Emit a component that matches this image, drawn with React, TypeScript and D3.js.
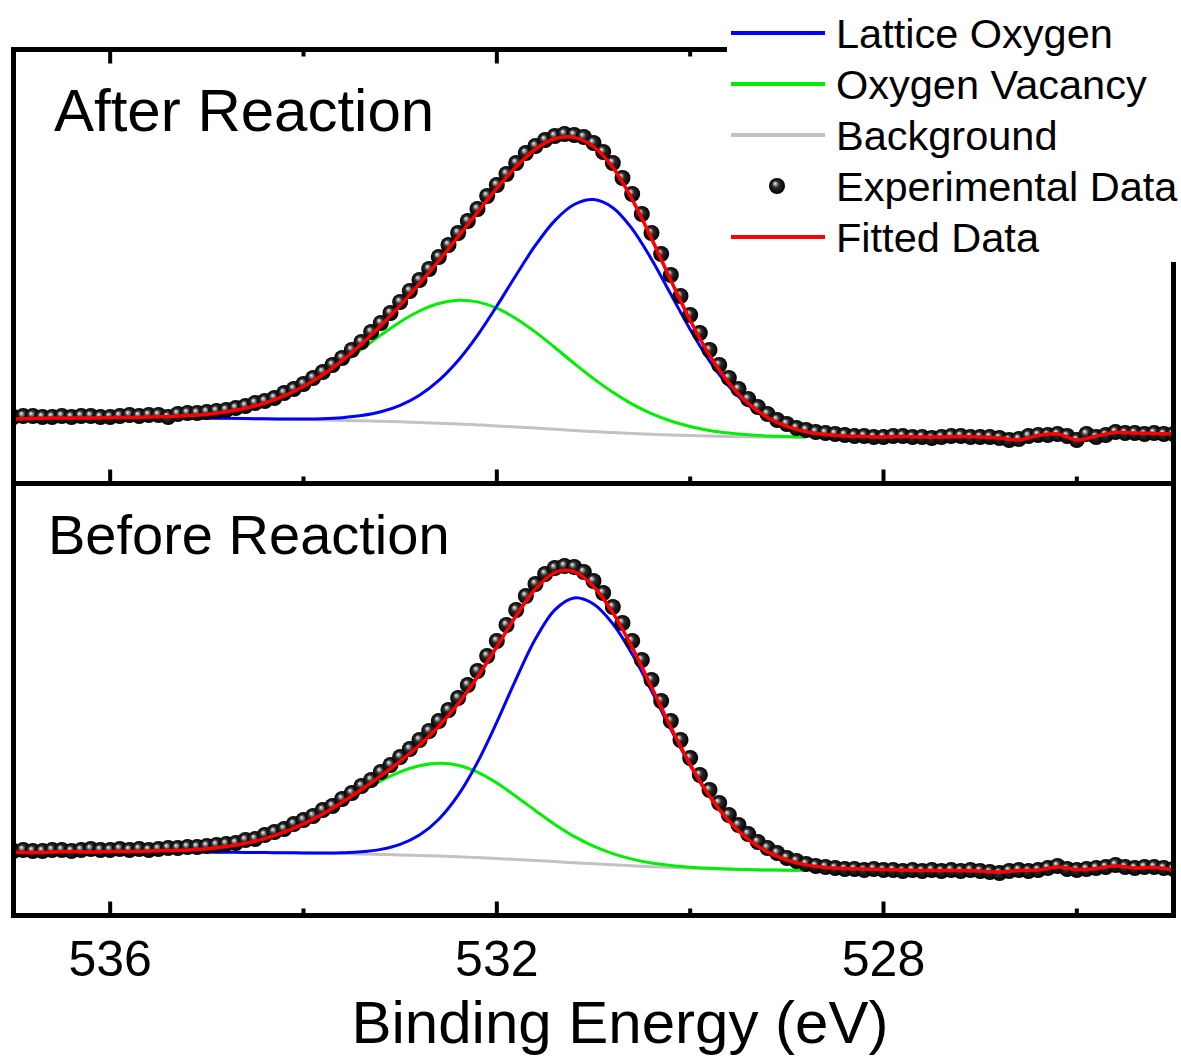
import React, { useRef, useEffect } from "react";
import * as d3 from "d3";

// x axis
const majorTicks = [536, 532, 528];
const minorTicks = [534, 530, 526];
const legendLabels = ["Lattice Oxygen", "Oxygen Vacancy", "Background", "Experimental Data", "Fitted Data"];

// experimental points, 537.0 -> 525.0 eV, every 0.1 eV (intensity, a.u.)
const afterData = [
  66, 67, 67, 66, 66, 67, 66, 67, 67, 66,
  66, 67, 68, 67, 68, 68, 66, 69, 70, 70,
  71, 72, 73, 75, 77, 80, 82, 85, 90, 94,
  99, 105, 111, 118, 125, 133, 141, 151, 160, 170,
  181, 192, 203, 214, 226, 238, 250, 262, 274, 287,
  298, 309, 320, 330, 337, 343, 347, 349, 348, 346,
  340, 331, 320, 305, 289, 269, 250, 229, 208, 187,
  168, 150, 133, 118, 105, 94, 84, 76, 69, 63,
  59, 55, 53, 51, 50, 49, 48, 47, 47, 46,
  46, 47, 47, 46, 46, 45, 46, 47, 47, 46,
  46, 46, 45, 43, 44, 47, 48, 48, 49, 47,
  43, 49, 46, 48, 51, 50, 50, 49, 50, 49,
  49,
];
const beforeData = [
  64, 65, 64, 64, 65, 65, 64, 65, 66, 65,
  65, 66, 65, 66, 65, 66, 67, 67, 68, 68,
  69, 70, 71, 72, 75, 76, 80, 83, 86, 91,
  95, 99, 105, 109, 116, 122, 129, 135, 143, 150,
  158, 166, 175, 184, 194, 205, 217, 230, 244, 259,
  274, 290, 305, 319, 331, 341, 347, 349, 348, 343,
  334, 322, 308, 292, 274, 255, 235, 214, 194, 175,
  157, 140, 125, 112, 100, 90, 81, 73, 67, 62,
  57, 54, 51, 49, 48, 47, 46, 46, 45, 46,
  45, 45, 44, 45, 44, 45, 44, 45, 44, 45,
  44, 43, 42, 44, 45, 44, 45, 47, 49, 46,
  45, 46, 47, 48, 50, 48, 47, 48, 48, 47,
  46,
];

// fitted envelope, 537.0 -> 525.0 eV, every 0.2 eV
const afterFit = [
  64, 64.5, 65, 65, 65, 65.5, 65.5, 66, 66.5, 67.4,
  68.8, 71.3, 74.8, 80.0, 87.1, 96.5, 108.2, 122.4, 138.9, 157.4,
  177.6, 199.3, 222.3, 246.3, 270.7, 294.7, 316.3, 333.8, 344.2, 345.6,
  336.4, 315.6, 283.6, 244.5, 202.7, 162.7, 127.9, 100.2, 79.6, 65.6,
  56.6, 51.3, 48.5, 47, 46.5, 46, 46.5, 46, 46, 46.5,
  46, 45, 43, 47.5, 49, 43, 47, 50.5, 50, 49.5,
  49,
];
const beforeFit = [
  63, 62.5, 63, 63.5, 63, 63.5, 63.5, 64, 64.5, 64.9,
  66.2, 68.4, 71.7, 76.4, 82.8, 91.1, 101.1, 112.8, 125.5, 139.2,
  153.7, 169.7, 188.7, 211.3, 238.1, 268.3, 299.2, 326.0, 342.4, 343.4,
  328.6, 302.4, 267.6, 227.9, 187.7, 150.6, 119.0, 94.0, 75.7, 63.1,
  55.0, 50.1, 47.5, 46.5, 46, 45.5, 45, 44.5, 44.5, 44.5,
  44, 43, 44.5, 45, 48, 45.5, 46.5, 49, 47, 47.5,
  45,
];

// fit components, 535.2 -> 528.8 eV, every 0.2 eV
const afterLattice = [
  65.0, 64.8, 64.7, 64.4, 64.2, 64.0, 64.0, 64.3, 65.3, 67.4,
  71.2, 77.7, 87.8, 102.6, 122.6, 147.7, 177.0, 208.0, 237.8, 262.4,
  278.5, 283.4, 275.3, 254.2, 223.8, 188.7, 153.6, 122.2, 96.7, 77.6,
  64.5, 56.0, 51.0,
];
const afterVacancy = [
  67.4, 68.8, 71.2, 74.7, 79.8, 86.8, 95.9, 106.9, 119.7, 133.7,
  147.9, 161.1, 172.0, 179.5, 182.7, 181.1, 174.8, 164.3, 150.9, 135.5,
  119.6, 104.4, 90.7, 78.9, 69.4, 62.0, 56.5, 52.6, 50.0, 48.2,
  47.1, 46.4, 46.0,
];
const afterBackground = [
  65.0, 64.8, 64.6, 64.3, 64.0, 63.7, 63.4, 63.0, 62.6, 62.2,
  61.7, 61.2, 60.5, 59.8, 59.0, 58.1, 57.1, 56.0, 54.9, 53.7,
  52.5, 51.4, 50.4, 49.5, 48.7, 48.0, 47.4, 46.9, 46.5, 46.2,
  46.0, 45.8, 45.7,
];
const beforeLattice = [
  63.0, 62.9, 62.8, 62.6, 62.4, 62.2, 62.1, 62.0, 62.3, 63.2,
  65.6, 70.6, 79.9, 95.8, 119.8, 152.7, 192.9, 236.2, 276.2, 305.2,
  317.1, 311.0, 291.2, 260.9, 224.1, 185.7, 149.6, 118.5, 93.8, 75.6,
  63.1, 55.0, 50.1,
];
const beforeVacancy = [
  64.9, 66.2, 68.4, 71.7, 76.4, 82.8, 91.0, 100.8, 111.9, 123.3,
  134.2, 143.2, 149.3, 151.8, 149.7, 142.8, 131.9, 118.5, 104.3, 90.6,
  78.6, 68.8, 61.4, 55.9, 52.1, 49.5, 47.8, 46.7, 45.9, 45.4,
  45.0, 44.8, 44.7,
];
const beforeBackground = [
  63.0, 62.9, 62.8, 62.6, 62.4, 62.2, 62.0, 61.7, 61.4, 61.0,
  60.6, 60.1, 59.5, 58.9, 58.2, 57.4, 56.5, 55.5, 54.5, 53.4,
  52.3, 51.2, 50.2, 49.2, 48.3, 47.5, 46.8, 46.2, 45.7, 45.3,
  45.0, 44.8, 44.7,
];

const dataStart = 537, dataStep = 0.1;
const fitStart = 537, fitStep = 0.2;
const compStart = 535.2, compStep = 0.2;

const colors = {
  lattice: "#0000ff",
  vacancy: "#00ee00",
  background: "#c4c0c8",
  fit: "#ff0000",
};

const font = "'Liberation Sans', Arial, Helvetica, sans-serif";

const App = () => {
  const ref = useRef<SVGSVGElement>(null);

  const width = 1181;
  const height = 1056;
  const left = 13.5;
  const right = 1173.5;
  const top = 49.5;
  const mid = 483.5;
  const bottom = 915.5;

  useEffect(() => {
    const svg = d3.select(ref.current);
    svg.selectAll("*").remove();

    const x = d3.scaleLinear().domain([537, 525]).range([left, right]);
    const yAfter = d3.scaleLinear().domain([0, 434]).range([483, 49]);
    const yBefore = d3.scaleLinear().domain([0, 432]).range([915, 483]);

    const defs = svg.append("defs");
    const ball = defs
      .append("radialGradient")
      .attr("id", "ball")
      .attr("cx", "50%")
      .attr("cy", "50%")
      .attr("r", "50%")
      .attr("fx", "36%")
      .attr("fy", "32%");
    ball.append("stop").attr("offset", "0%").attr("stop-color", "#f6f6f6");
    ball.append("stop").attr("offset", "16%").attr("stop-color", "#aaaaaa");
    ball.append("stop").attr("offset", "42%").attr("stop-color", "#2c2c2c");
    ball.append("stop").attr("offset", "100%").attr("stop-color", "#000000");

    defs.append("clipPath").attr("id", "clipAfter")
      .append("rect").attr("x", left).attr("y", top).attr("width", right - left).attr("height", mid - top);
    defs.append("clipPath").attr("id", "clipBefore")
      .append("rect").attr("x", left).attr("y", mid).attr("width", right - left).attr("height", bottom - mid);

    svg.append("rect").attr("width", width).attr("height", height).attr("fill", "#ffffff");

    const drawPanel = (
      clipId: string,
      y: d3.ScaleLinear<number, number>,
      data: number[],
      fit: number[],
      lattice: number[],
      vacancy: number[],
      background: number[]
    ) => {
      const g = svg.append("g").attr("clip-path", `url(#${clipId})`);
      const line = (start: number, step: number) =>
        d3
          .line<number>()
          .x((d, i) => x(start - i * step))
          .y((d) => y(d))
          .curve(d3.curveCatmullRom.alpha(0.5));

      const comps: [number[], string][] = [
        [background, colors.background],
        [vacancy, colors.vacancy],
        [lattice, colors.lattice],
      ];
      comps.forEach(([vals, c]) => {
        g.append("path")
          .attr("d", line(compStart, compStep)(vals))
          .attr("fill", "none")
          .attr("stroke", c)
          .attr("stroke-width", 3);
      });

      g.selectAll("circle.pt")
        .data(data)
        .enter()
        .append("circle")
        .attr("class", "pt")
        .attr("cx", (d, i) => x(dataStart - i * dataStep))
        .attr("cy", (d) => y(d))
        .attr("r", 8)
        .attr("fill", "url(#ball)");

      g.append("path")
        .attr("d", line(fitStart, fitStep)(fit))
        .attr("fill", "none")
        .attr("stroke", colors.fit)
        .attr("stroke-width", 3.5);
    };

    drawPanel("clipAfter", yAfter, afterData, afterFit, afterLattice, afterVacancy, afterBackground);
    drawPanel("clipBefore", yBefore, beforeData, beforeFit, beforeLattice, beforeVacancy, beforeBackground);

    // frame
    const frame = svg.append("g").attr("stroke", "#000").attr("stroke-width", 5);
    frame.append("line").attr("x1", left).attr("x2", left).attr("y1", top - 2.5).attr("y2", bottom + 2.5);
    frame.append("line").attr("x1", right).attr("x2", right).attr("y1", top - 2.5).attr("y2", bottom + 2.5);
    [top, mid, bottom].forEach((yy) => {
      frame.append("line").attr("x1", left - 2.5).attr("x2", right + 2.5).attr("y1", yy).attr("y2", yy);
    });

    // ticks: pointing up from the separator and the bottom axis, down from the top edge
    const ticks = svg.append("g").attr("stroke", "#000").attr("stroke-width", 4);
    const tickSet = [
      ...majorTicks.map((v) => ({ v, len: 14 })),
      ...minorTicks.map((v) => ({ v, len: 7 })),
    ];
    tickSet.forEach(({ v, len }) => {
      ticks.append("line").attr("x1", x(v)).attr("x2", x(v)).attr("y1", mid).attr("y2", mid - len);
      ticks.append("line").attr("x1", x(v)).attr("x2", x(v)).attr("y1", bottom).attr("y2", bottom - len);
      ticks.append("line").attr("x1", x(v)).attr("x2", x(v)).attr("y1", top).attr("y2", top + len);
    });

    svg
      .selectAll("text.tick")
      .data(majorTicks)
      .enter()
      .append("text")
      .attr("class", "tick")
      .attr("x", (d) => x(d))
      .attr("y", 976)
      .attr("text-anchor", "middle")
      .style("font-family", font)
      .style("font-size", "50px")
      .text((d) => d);

    svg
      .append("text")
      .attr("x", 620)
      .attr("y", 1043)
      .attr("text-anchor", "middle")
      .style("font-family", font)
      .style("font-size", "60px")
      .text("Binding Energy (eV)");

    svg
      .append("text")
      .attr("x", 54)
      .attr("y", 131)
      .style("font-family", font)
      .style("font-size", "60px")
      .text("After Reaction");

    svg
      .append("text")
      .attr("x", 48)
      .attr("y", 554)
      .style("font-family", font)
      .style("font-size", "56px")
      .text("Before Reaction");

    // legend box sits over the top-right corner of the frame
    const legend = svg.append("g");
    legend.append("rect").attr("x", 727).attr("y", 0).attr("width", width - 727).attr("height", 262).attr("fill", "#ffffff");
    const legendColors = [colors.lattice, colors.vacancy, colors.background, null, colors.fit];
    legendLabels.forEach((label, i) => {
      const cy = 33 + i * 51;
      const c = legendColors[i];
      if (c) {
        legend.append("line").attr("x1", 731).attr("x2", 825).attr("y1", cy).attr("y2", cy)
          .attr("stroke", c).attr("stroke-width", 4);
      } else {
        legend.append("circle").attr("cx", 777).attr("cy", cy).attr("r", 8).attr("fill", "url(#ball)");
      }
      legend.append("text")
        .attr("x", 836)
        .attr("y", cy + 15)
        .style("font-family", font)
        .style("font-size", "41.5px")
        .text(label);
    });
  }, []);

  return (
    <svg
      ref={ref}
      width={width}
      height={height}
      style={{ position: "absolute", left: 0, top: 0, display: "block" }}
    />
  );
};

export default App;
